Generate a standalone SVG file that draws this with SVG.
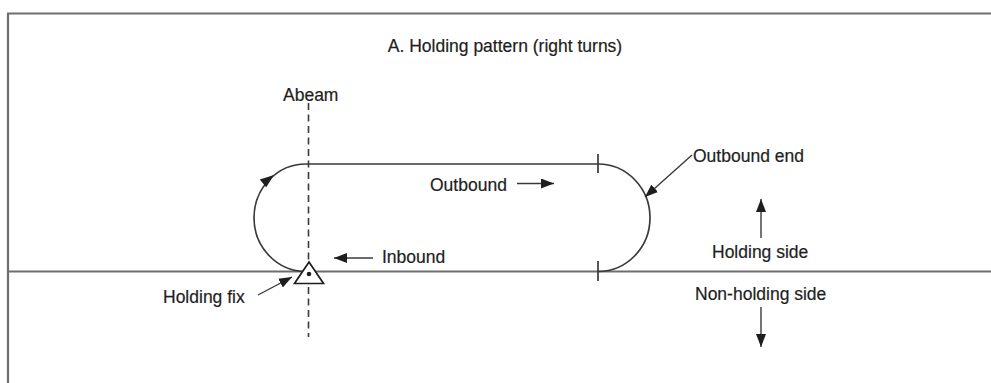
<svg xmlns="http://www.w3.org/2000/svg" width="991" height="383" viewBox="0 0 991 383">
  <style>
    .lbl { font-family: "Liberation Sans", Arial, Helvetica, sans-serif; font-size: 17.5px; fill: #1e1e1e; stroke: #1e1e1e; stroke-width: 0.2; }
    .frame { fill: none; stroke: #6e6e6e; stroke-width: 2.2; }
    .course { fill: none; stroke: #3a3a3a; stroke-width: 1.7; }
    .lead { fill: none; stroke: #3a3a3a; stroke-width: 1.4; }
    .abeam { fill: none; stroke: #3a3a3a; stroke-width: 1.6; stroke-dasharray: 7 4.5; }
  </style>
  <defs>
    <marker id="head" viewBox="0 0 13 10" refX="13" refY="5" markerWidth="13" markerHeight="10" markerUnits="userSpaceOnUse" orient="auto">
      <path d="M0,0 L13,5 L0,10 Z" fill="#1e1e1e"/>
    </marker>
  </defs>
  <rect width="991" height="383" fill="#fff"/>

  <!-- frame and reference (inbound) course line -->
  <g id="frame">
    <path class="frame" d="M8,383 V13.5 H991"/>
    <path class="frame" d="M8,271.5 H991"/>
  </g>

  <text class="lbl" x="505" y="52" text-anchor="middle" font-size="18">A. Holding pattern (right turns)</text>

  <!-- abeam line through the fix -->
  <g id="abeam">
    <path class="abeam" d="M308.5,103 V337"/>
    <text class="lbl" x="283" y="101">Abeam</text>
  </g>

  <!-- racetrack pattern -->
  <g id="pattern">
    <path class="course" d="M306,271.5 A52,53.75 0 0 1 306,164 H598 A52,53.75 0 0 1 598,271.5"/>
    <path class="course" d="M598,154 V173 M598,261 V281"/>
    <path d="M274,175 L259.8,179.6 L266.2,187.3 Z" fill="#1e1e1e"/>
  </g>

  <!-- holding fix -->
  <g id="holding-fix">
    <path d="M309,262 L323.5,283.5 L294.5,283.5 Z" fill="#fff" stroke="#1e1e1e" stroke-width="1.7" stroke-linejoin="miter"/>
    <circle cx="309" cy="274" r="2.3" fill="#1e1e1e"/>
    <text class="lbl" x="163" y="303">Holding fix</text>
  </g>

  <g id="outbound">
    <text class="lbl" x="430" y="190.5">Outbound</text>
  </g>
  <g id="inbound">
    <text class="lbl" x="382" y="263">Inbound</text>
  </g>
  <g id="outbound-end">
    <text class="lbl" x="693" y="162">Outbound end</text>
  </g>
  <g id="holding-side">
    <text class="lbl" x="712" y="258">Holding side</text>
  </g>
  <g id="non-holding-side">
    <text class="lbl" x="695" y="300">Non-holding side</text>
  </g>

  <!-- label arrows -->
  <g id="connectors">
    <path class="lead" d="M517,183.5 H554" marker-end="url(#head)"/>
    <path class="lead" d="M373,258 H334" marker-end="url(#head)"/>
    <path class="lead" d="M692,155 L645,197" marker-end="url(#head)"/>
    <path class="lead" d="M258,295 L292,277" marker-end="url(#head)"/>
    <path class="lead" d="M761,238 V199" marker-end="url(#head)"/>
    <path class="lead" d="M761,307 V347" marker-end="url(#head)"/>
  </g>
</svg>
